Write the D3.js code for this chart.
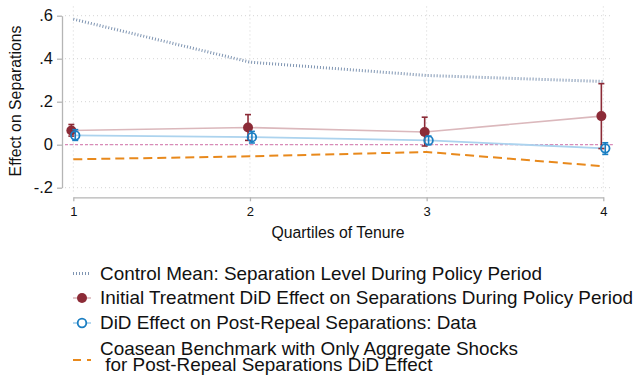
<!DOCTYPE html>
<html>
<head>
<meta charset="utf-8">
<script src="https://cdn.jsdelivr.net/npm/d3@7"></script>
<style>
  html, body { margin: 0; padding: 0; background: #fff; }
  svg { display: block; font-family: "Liberation Sans", Arial, sans-serif; }
</style>
</head>
<body>
<svg id="chart" width="642" height="379"></svg>
<script>
// Quartiles of tenure
const quartiles = [1, 2, 3, 4];
const xTickLabels = ["1", "2", "3", "4"];
const yTicks = [-0.2, 0, 0.2, 0.4, 0.6];
const yTickLabels = ["-.2", "0", ".2", ".4", ".6"];

// Control mean: separation level during policy period
const controlMean = [0.584, 0.384, 0.322, 0.294];

// Initial treatment DiD effect during policy period, with 95% CI
const initialEffect = [0.066, 0.080, 0.059, 0.133];
const initialLow    = [0.040, 0.020, -0.006, -0.018];
const initialHigh   = [0.094, 0.140, 0.128, 0.284];

// DiD effect on post-repeal separations (data), with 95% CI
const repealEffect = [0.043, 0.035, 0.020, -0.017];
const repealLow    = [0.020, 0.008, 0.000, -0.045];
const repealHigh   = [0.070, 0.062, 0.040, 0.009];

// Coasean benchmark with only aggregate shocks
const coasean = [-0.068, -0.054, -0.034, -0.100];

const legendLabels = [
  ["Control Mean: Separation Level During Policy Period"],
  ["Initial Treatment DiD Effect on Separations During Policy Period"],
  ["DiD Effect on Post-Repeal Separations: Data"],
  ["Coasean Benchmark with Only Aggregate Shocks", " for Post-Repeal Separations DiD Effect"]
];

const colors = {
  control: "#7f95b2",
  initial: "#8c2b37",
  initialLine: "#dbb8bc",
  repeal: "#1a7ec2",
  repealLine: "#acd3ee",
  coasean: "#e8891c",
  zero: "#d98ab8",
  grid: "#d4d4d4",
  axis: "#b5b5b5"
};

const svg = d3.select("#chart");

const x = d3.scaleLinear().domain([1, 4]).range([73.3, 603.3]);
const y = d3.scaleLinear().domain([-0.2, 0.6]).range([187.7, 15.7]);
const dodge = 0.011; // horizontal offset between the two estimate series

const gridLeft = x(0.953), gridRight = x(4.054);
const gridTop = y(0.643), gridBottom = y(-0.227);

// Gridlines
svg.append("g").selectAll("line").data(yTicks).join("line")
  .attr("x1", gridLeft).attr("x2", gridRight)
  .attr("y1", d => y(d)).attr("y2", d => y(d))
  .attr("stroke", colors.grid).attr("stroke-width", 1)
  .attr("stroke-dasharray", "1,3");
svg.append("g").selectAll("line").data(quartiles).join("line")
  .attr("x1", d => x(d)).attr("x2", d => x(d))
  .attr("y1", gridTop).attr("y2", gridBottom)
  .attr("stroke", colors.grid).attr("stroke-width", 1)
  .attr("stroke-dasharray", "1,3");

// Axes
const yAxis = d3.axisLeft(y).tickValues(yTicks)
  .tickFormat((d, i) => yTickLabels[i]).tickSize(5).tickSizeOuter(0).tickPadding(4);
const gy = svg.append("g").attr("transform", "translate(62,0)").call(yAxis);
gy.select(".domain").attr("stroke", colors.axis).attr("stroke-width", 1.3);
gy.selectAll(".tick line").attr("stroke", colors.axis).attr("stroke-width", 1.3);
gy.selectAll(".tick text").attr("font-size", 16.5).attr("fill", "#111")
  .attr("font-family", "Liberation Sans, Arial, sans-serif");

const xAxis = d3.axisBottom(x).tickValues(quartiles)
  .tickFormat((d, i) => xTickLabels[i]).tickSize(4).tickSizeOuter(0).tickPadding(5);
const gx = svg.append("g").attr("transform", "translate(0,197.3)").call(xAxis);
gx.select(".domain").attr("stroke", colors.axis).attr("stroke-width", 1.3);
gx.selectAll(".tick line").attr("stroke", colors.axis).attr("stroke-width", 1.3);
gx.selectAll(".tick text").attr("font-size", 13).attr("fill", "#111")
  .attr("font-family", "Liberation Sans, Arial, sans-serif");

// Axis titles
svg.append("text")
  .attr("transform", "translate(21,101) rotate(-90)")
  .attr("text-anchor", "middle")
  .attr("font-size", 15.8).attr("fill", "#111")
  .text("Effect on Separations");
svg.append("text")
  .attr("x", 338).attr("y", 238)
  .attr("text-anchor", "middle")
  .attr("font-size", 15.8).attr("fill", "#111")
  .text("Quartiles of Tenure");

// Zero reference line
svg.append("line")
  .attr("x1", gridLeft).attr("x2", gridRight)
  .attr("y1", y(0)).attr("y2", y(0))
  .attr("stroke", colors.zero).attr("stroke-width", 1.3)
  .attr("stroke-dasharray", "3,2");

const line = d3.line().x(d => x(d[0])).y(d => y(d[1]));

// Control mean line
svg.append("path")
  .attr("d", line(quartiles.map((q, i) => [q, controlMean[i]])))
  .attr("fill", "none").attr("stroke", colors.control)
  .attr("stroke-width", 3).attr("stroke-dasharray", "1,2");

// Coasean benchmark line
svg.append("path")
  .attr("d", line(quartiles.map((q, i) => [q, coasean[i]])))
  .attr("fill", "none").attr("stroke", colors.coasean)
  .attr("stroke-width", 2).attr("stroke-dasharray", "9,5");

// Connecting lines for the estimates
svg.append("path")
  .attr("d", line(quartiles.map((q, i) => [q - dodge, initialEffect[i]])))
  .attr("fill", "none").attr("stroke", colors.initialLine).attr("stroke-width", 1.6);
svg.append("path")
  .attr("d", line(quartiles.map((q, i) => [q + dodge, repealEffect[i]])))
  .attr("fill", "none").attr("stroke", colors.repealLine).attr("stroke-width", 1.8);

// Error bars with caps
function errorBars(xs, lo, hi, color, width) {
  const g = svg.append("g").attr("stroke", color).attr("stroke-width", width);
  xs.forEach((q, i) => {
    g.append("line").attr("x1", x(q)).attr("x2", x(q)).attr("y1", y(lo[i])).attr("y2", y(hi[i]));
    g.append("line").attr("x1", x(q) - 3).attr("x2", x(q) + 3).attr("y1", y(lo[i])).attr("y2", y(lo[i]));
    g.append("line").attr("x1", x(q) - 3).attr("x2", x(q) + 3).attr("y1", y(hi[i])).attr("y2", y(hi[i]));
  });
}

const initialX = quartiles.map(q => q - dodge);
const repealX = quartiles.map(q => q + dodge);

errorBars(initialX, initialLow, initialHigh, colors.initial, 1.6);
svg.append("g").selectAll("circle").data(initialEffect).join("circle")
  .attr("cx", (d, i) => x(initialX[i])).attr("cy", d => y(d))
  .attr("r", 5).attr("fill", colors.initial);

errorBars(repealX, repealLow, repealHigh, colors.repeal, 1.6);
svg.append("g").selectAll("circle").data(repealEffect).join("circle")
  .attr("cx", (d, i) => x(repealX[i])).attr("cy", d => y(d))
  .attr("r", 4.3).attr("fill", "none").attr("stroke", colors.repeal).attr("stroke-width", 1.8);

// Legend: one text block per entry, extra lines as tspans.
// The legend face is slightly wide, so the text is stretched horizontally.
const keyX0 = 73, keyX1 = 91, keyXc = 82, textX = 100;
const legendStretch = 1.068;
const legend = svg.append("g")
  .attr("transform", `translate(${textX},0) scale(${legendStretch},1) translate(${-textX},0)`)
  .attr("font-size", 17.7).attr("fill", "#111");
const rowBaseline = [280, 304.5, 329.5, 355];
const lineStep = 16;
const keyY = [273.5, 298, 323, 360];

legendLabels.forEach((lines, i) => {
  const t = legend.append("text")
    .attr("x", textX).attr("y", rowBaseline[i])
    .attr("xml:space", "preserve")
    .style("white-space", "pre");
  lines.forEach((s, j) => {
    t.append("tspan")
      .attr("x", textX)
      .attr("y", rowBaseline[i] + j * lineStep)
      .text(s);
  });
});

// Legend keys
svg.append("line").attr("x1", keyX0).attr("x2", keyX1).attr("y1", keyY[0]).attr("y2", keyY[0])
  .attr("stroke", colors.control).attr("stroke-width", 3).attr("stroke-dasharray", "1,2");
svg.append("line").attr("x1", keyX0).attr("x2", keyX1).attr("y1", keyY[1]).attr("y2", keyY[1])
  .attr("stroke", colors.initialLine).attr("stroke-width", 1.6);
svg.append("circle").attr("cx", keyXc).attr("cy", keyY[1]).attr("r", 5).attr("fill", colors.initial);
svg.append("line").attr("x1", keyX0).attr("x2", keyX1).attr("y1", keyY[2]).attr("y2", keyY[2])
  .attr("stroke", colors.repealLine).attr("stroke-width", 1.8);
svg.append("circle").attr("cx", keyXc).attr("cy", keyY[2]).attr("r", 4.3)
  .attr("fill", "#fff").attr("stroke", colors.repeal).attr("stroke-width", 1.8);
svg.append("line").attr("x1", keyX0).attr("x2", keyX1).attr("y1", keyY[3]).attr("y2", keyY[3])
  .attr("stroke", colors.coasean).attr("stroke-width", 2).attr("stroke-dasharray", "8,6");
</script>
</body>
</html>
